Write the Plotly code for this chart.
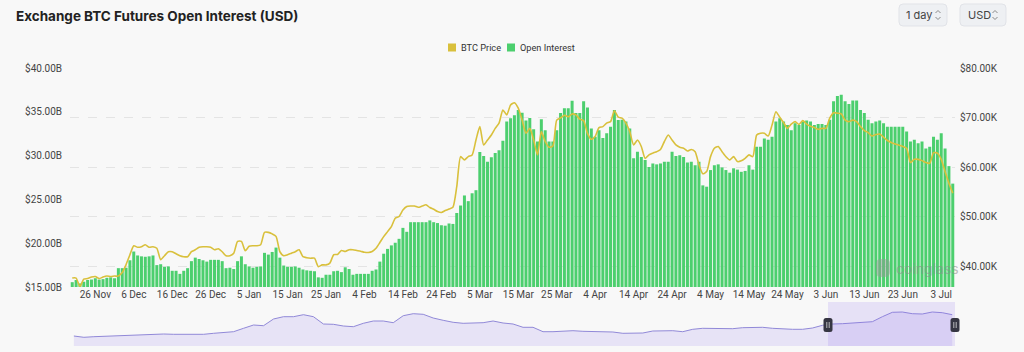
import pandas as pd
import plotly.graph_objects as go

# ---------------- data ----------------
start_date = "2023-11-20"
oi_billion = [
    15.55, 15.8, 15.4, 15.6, 15.8, 15.85, 16.0, 15.85, 15.9, 16.05,
    16.1, 16.0, 17.15, 17.15, 17.2, 18.05, 19.05, 18.6, 18.5, 18.45,
    18.5, 18.6, 17.5, 17.6, 17.3, 17.35, 16.85, 16.85, 16.5, 16.85,
    17.15, 17.95, 18.35, 18.2, 18.05, 17.9, 18.1, 18.1, 18.1, 17.95,
    17.15, 17.2, 17.05, 17.95, 18.5, 17.6, 17.35, 17.2, 17.3, 17.35,
    18.9, 18.7, 19.0, 19.5, 18.35, 17.45, 17.3, 17.3, 17.35, 17.2,
    17.0, 16.9,
    16.85, 16.8, 16.1, 16.05, 16.4, 16.4, 16.8, 16.85, 16.7, 17.25,
    17.05, 16.4, 16.5, 16.5, 16.5, 16.5, 16.85, 17.0, 17.9, 18.8,
    19.35, 19.75, 20.05, 20.5, 21.75, 21.3, 22.4, 22.4, 22.4, 22.4,
    22.4, 22.6, 22.4, 22.3, 22.05, 22.0, 22.25, 22.2, 23.45, 24.3,
    25.45, 24.8, 25.7, 26.05, 30.4, 29.95, 29.3, 29.8, 30.3, 30.6,
    31.7, 33.9, 34.25, 34.6, 35.2,
    34.9, 34.0, 34.3, 33.0, 31.6,
    34.15, 32.9, 31.6, 31.6, 32.9, 34.85, 35.4, 35.4, 36.25, 34.85,
    34.85, 36.2, 35.5, 33.1, 32.15, 32.9, 32.0, 32.55, 33.3, 35.2,
    34.05, 34.1, 33.9, 33.1, 29.7, 30.45, 29.85, 29.5, 28.7, 29.1,
    29.0, 29.1, 29.3, 29.3, 30.45, 29.95, 30.05, 29.85, 29.2, 29.3,
    28.9, 29.3, 26.6, 26.45, 28.35, 28.9, 29.0, 28.65, 28.35, 28.05,
    28.55, 28.4, 28.15, 28.25, 28.9, 28.4, 31.0,
    31.0, 31.95, 31.8, 32.15, 33.9, 34.25, 33.9, 33.5, 32.9, 33.7,
    33.5, 33.9, 34.0, 33.9, 33.5, 33.6, 33.6, 33.5, 34.1, 36.2,
    36.8, 36.95, 36.2, 35.9, 36.3, 36.3, 35.2, 34.85, 34.1, 33.7,
    33.9, 34.0, 33.7, 33.3, 33.3, 33.3, 33.3, 33.3, 32.75, 31.6,
    31.8, 31.4, 31.6, 30.8, 31.0, 32.15, 31.8, 32.55, 30.8, 28.8,
    26.8,
]
btc_price_k = [
    37.7, 37.7, 36.0, 37.5, 37.6, 37.9, 38.0, 37.6, 37.9, 38.1,
    38.0, 38.1, 38.1, 38.8, 40.4, 42.4, 44.2, 43.9, 44.0, 44.4,
    43.9, 44.0, 43.7, 41.4, 42.2, 43.0, 43.0, 42.6, 42.2, 42.0,
    42.0, 43.0, 43.4, 43.9, 44.0, 44.0, 43.9, 43.4, 43.6, 43.0,
    42.2, 42.2, 42.7, 45.1, 45.1, 43.2, 44.1, 44.2, 44.2, 44.4,
    46.9, 46.9, 46.6, 46.1, 43.0, 42.2, 42.4, 42.7, 43.0, 43.4,
    42.0, 41.8,
    41.7, 41.7, 40.0, 40.35, 40.35, 40.7, 42.4, 42.45, 43.25, 43.05,
    43.4, 43.4, 43.25, 43.1, 42.9, 42.85, 43.05, 43.7, 44.85, 46.05,
    47.05, 48.05, 49.75, 50.1, 51.4, 52.1, 52.2, 52.2, 51.95, 52.2,
    52.45, 51.9, 51.55, 51.1, 50.9, 51.3, 51.6, 51.95, 56.1, 62.15,
    61.5, 62.15, 62.5, 65.5, 68.2, 64.5, 65.5, 66.5, 67.85, 68.9,
    71.55, 70.55, 72.55, 73.0, 71.9, 69.5, 66.85, 67.85, 65.5, 62.5,
    67.2, 65.2, 64.05, 64.3, 69.5, 69.95, 70.5, 70.2, 70.75, 70.55,
    69.7, 69.4, 66.85, 65.65, 66.2, 68.0, 68.2, 68.9, 69.2, 71.4,
    70.1, 69.9, 68.9, 67.2, 64.5, 65.5, 64.2, 61.8, 62.5, 62.85,
    63.15, 63.6, 65.2, 66.5, 65.5, 64.5, 64.05, 63.85, 63.3, 63.6,
    63.15, 60.5, 58.7, 59.15, 62.15, 63.85, 64.2, 63.15, 62.15, 61.5,
    62.15, 61.15, 61.3, 61.8, 62.5, 62.15, 66.5,
    66.85, 66.85, 66.3, 68.5, 71.2, 70.1, 69.0, 67.85, 68.7, 69.2,
    68.65, 69.4, 68.7, 68.25, 68.0, 67.65, 67.85, 67.85, 69.9, 71.0,
    70.9, 70.75, 69.5, 69.2, 69.5, 69.2, 68.2, 67.4, 67.0, 66.3,
    66.6, 66.7, 66.05, 65.4, 65.0, 64.7, 64.45, 64.2, 63.85, 60.95,
    61.6, 61.6, 61.35, 60.95, 60.8, 62.95, 62.85, 61.6, 59.15, 56.8,
    54.8,
]
# overview (navigator) series, 18-day samples, relative height units
overview_end = "2024-07-01"
overview_vals = [
    10, 8.7, 9.3, 9.7, 10, 10.3, 10.3, 10.7, 11, 12,
    11.7, 11.7, 11.3, 11.7, 12.7, 13.7, 14.3, 17.7, 21, 20.3,
    27, 29.3, 29.3, 31.3, 29.3, 22, 21.7, 20, 19.3, 22.7,
    25, 25, 23.3, 30.3, 32.3, 31.7, 28, 25.7, 23.7, 22.7,
    23.3, 23.3, 25, 23, 22, 18.7, 18.7, 14.3, 14.3, 14.7,
    15.3, 14.7, 14.3, 14.3, 14, 12.7, 12.7, 13, 15, 15.3,
    15.3, 14.3, 16.7, 17.7, 17.7, 17.7, 17.3, 18.3, 18.7, 18.7,
    17.7, 17, 16.7, 16.7, 18, 20.7, 22, 22.3, 23, 23,
    24.3, 29.3, 33.7, 34, 32.3, 32, 34, 33.3, 31.3,
]
left_ticks = [15, 20, 25, 30, 35, 40]
right_ticks = [40, 50, 60, 70, 80]
legend_names = ["BTC Price", "Open Interest"]

# ---------------- styling ----------------
GREEN = "#4ccf6e"
YELLOW = "#d9c03c"
BG = "#f8f8f8"
W, H = 1024, 352
ML, MR, MT, MB = 70, 69, 68, 6
PW, PH = W - ML - MR, H - MT - MB


def px(x):
    return (x - ML) / PW


def py(y):
    return (H - MB - y) / PH


dates = pd.date_range(start_date, periods=len(oi_billion), freq="D")
ov_dates = pd.date_range(end=overview_end, periods=len(overview_vals), freq="18D")

fig = go.Figure()
fig.add_trace(go.Bar(x=dates, y=oi_billion, name=legend_names[1], marker_color=GREEN,
                     marker_line_width=0, xaxis="x", yaxis="y", showlegend=False))
fig.add_trace(go.Scatter(x=dates, y=btc_price_k, name=legend_names[0], mode="lines",
                         line=dict(color=YELLOW, width=1.6, shape="spline", smoothing=0.6),
                         xaxis="x", yaxis="y2", showlegend=False))
fig.add_trace(go.Scatter(x=ov_dates, y=overview_vals, mode="lines", fill="tozeroy",
                         fillcolor="#e7e3f6", line=dict(color="#9189d8", width=1),
                         xaxis="x2", yaxis="y3", showlegend=False))

tickfont = dict(family="Roboto", size=10, color="#444")
main_bottom = py(287)

fig.update_layout(
    width=W, height=H,
    margin=dict(l=ML, r=MR, t=MT, b=MB, autoexpand=False),
    paper_bgcolor=BG, plot_bgcolor=BG,
    bargap=0.22,
    showlegend=False,
    font=dict(family="Roboto", color="#333"),
    xaxis=dict(domain=[0, 1], anchor="y", type="date",
               range=["2023-11-19 10:00", "2024-07-06 14:00"],
               tickformat="%-d %b", dtick=10 * 86400000, tick0="2023-11-26",
               showgrid=False, zeroline=False, showline=False, ticks="",
               tickfont=tickfont, automargin=False),
    yaxis=dict(domain=[main_bottom, 1], range=[15, 40], tickvals=left_ticks,
               ticktext=[f"${v:.2f}B" for v in left_ticks], showgrid=False,
               zeroline=False, ticks="", tickfont=tickfont, ticklabelstandoff=7,
               automargin=False),
    yaxis2=dict(overlaying="y", side="right", range=[35.9, 80], tickvals=right_ticks,
                ticktext=[f"${v:.2f}K" for v in right_ticks], showgrid=True,
                gridcolor="#e4e4e4", griddash="dash", gridwidth=1,
                zeroline=False, ticks="", tickfont=tickfont, ticklabelstandoff=4,
                automargin=False),
    xaxis2=dict(domain=[0, 1], anchor="y3", type="date",
                range=["2020-02-22", "2024-07-06"], visible=False),
    yaxis3=dict(domain=[0, py(302)], range=[0, 44], visible=False),
)


def rrect(x0, y0, x1, y1, r):
    # rounded rectangle path in paper coords from pixel coords
    pts = [
        f"M {px(x0 + r)},{py(y0)}", f"L {px(x1 - r)},{py(y0)}",
        f"Q {px(x1)},{py(y0)} {px(x1)},{py(y0 + r)}", f"L {px(x1)},{py(y1 - r)}",
        f"Q {px(x1)},{py(y1)} {px(x1 - r)},{py(y1)}", f"L {px(x0 + r)},{py(y1)}",
        f"Q {px(x0)},{py(y1)} {px(x0)},{py(y1 - r)}", f"L {px(x0)},{py(y0 + r)}",
        f"Q {px(x0)},{py(y0)} {px(x0 + r)},{py(y0)}", "Z",
    ]
    return " ".join(pts)


shapes = []
# selection window on the navigator
shapes.append(dict(type="rect", xref="x2", yref="paper", x0=start_date, x1=dates[-1],
                   y0=0, y1=py(302), fillcolor="rgba(140,115,235,0.17)",
                   line=dict(width=0), layer="above"))
# handles
for hx in (828, 955):
    shapes.append(dict(type="path", xref="paper", yref="paper",
                       path=rrect(hx - 4.5, 318, hx + 4.5, 332, 2.5),
                       fillcolor="#363642", line=dict(width=0), layer="above"))
    for dx in (-1.2, 1.2):
        shapes.append(dict(type="line", xref="paper", yref="paper",
                           x0=px(hx + dx), x1=px(hx + dx), y0=py(322), y1=py(328),
                           line=dict(color="#dddddd", width=0.8), layer="above"))
# top-right buttons
for (bx0, bx1, cx) in ((899, 947, 938), (960, 1006, 995)):
    shapes.append(dict(type="path", xref="paper", yref="paper",
                       path=rrect(bx0, 4, bx1, 26, 4), fillcolor="#eef0f3",
                       line=dict(color="#e1e3e8", width=1)))
    shapes.append(dict(type="path", xref="paper", yref="paper",
                       path=f"M {px(cx-2.5)},{py(13)} L {px(cx)},{py(10.5)} L {px(cx+2.5)},{py(13)}",
                       line=dict(color="#8a8a8a", width=1)))
    shapes.append(dict(type="path", xref="paper", yref="paper",
                       path=f"M {px(cx-2.5)},{py(17)} L {px(cx)},{py(19.5)} L {px(cx+2.5)},{py(17)}",
                       line=dict(color="#8a8a8a", width=1)))
# legend squares
for (lx, col) in ((448, YELLOW), (507, GREEN)):
    shapes.append(dict(type="rect", xref="paper", yref="paper",
                       x0=px(lx), x1=px(lx + 8), y0=py(51.5), y1=py(43.5),
                       fillcolor=col, line=dict(width=0)))
# watermark logo blob
shapes.append(dict(type="path", xref="paper", yref="paper",
                   path=rrect(876, 259, 890, 277, 5),
                   fillcolor="rgba(150,150,150,0.45)", line=dict(width=0)))
fig.update_layout(shapes=shapes)

annotations = [
    dict(text="<b>Exchange BTC Futures Open Interest (USD)</b>", xref="paper", yref="paper",
         x=px(14), y=py(16), xanchor="left", yanchor="middle", showarrow=False,
         font=dict(family="Inter", size=13.5, color="#222")),
    dict(text="1 day", xref="paper", yref="paper", x=px(904), y=py(15),
         xanchor="left", yanchor="middle", showarrow=False,
         font=dict(family="Inter", size=11, color="#444")),
    dict(text="USD", xref="paper", yref="paper", x=px(966), y=py(15),
         xanchor="left", yanchor="middle", showarrow=False,
         font=dict(family="Inter", size=11, color="#444")),
    dict(text=legend_names[0], xref="paper", yref="paper", x=px(459), y=py(47.5),
         xanchor="left", yanchor="middle", showarrow=False,
         font=dict(family="Roboto", size=9.2, color="#333")),
    dict(text=legend_names[1], xref="paper", yref="paper", x=px(518), y=py(47.5),
         xanchor="left", yanchor="middle", showarrow=False,
         font=dict(family="Roboto", size=9.2, color="#333")),
    dict(text="coinglass", xref="paper", yref="paper", x=px(894), y=py(268),
         xanchor="left", yanchor="middle", showarrow=False,
         font=dict(family="Inter", size=14, color="rgba(140,140,140,0.55)")),
]
fig.update_layout(annotations=annotations)

fig.write_html("out.html")
